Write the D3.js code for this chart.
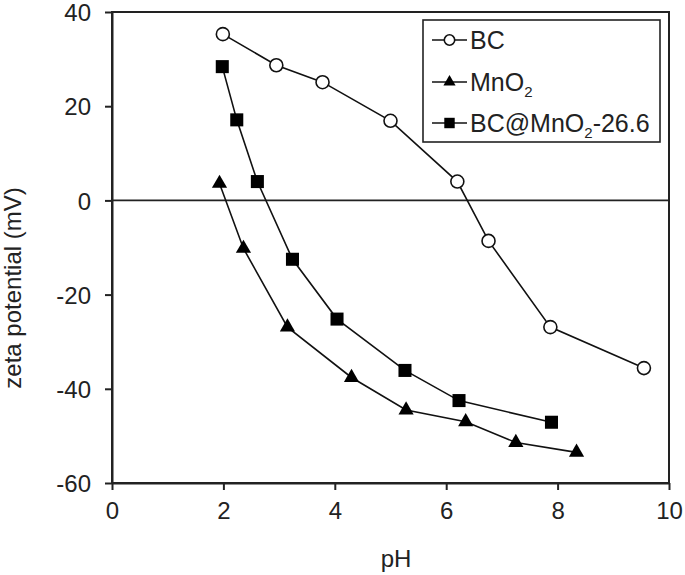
<!DOCTYPE html>
<html>
<head>
<meta charset="utf-8">
<script src="https://cdn.jsdelivr.net/npm/d3@7"></script>
<style>
  body { margin: 0; background: #fff; }
  svg { display: block; font-family: "Liberation Sans", Arial, sans-serif; }
</style>
</head>
<body>
<div id="chart"></div>
<script>
// pH values and zeta potentials (mV)
const bcPH = [1.99, 2.95, 3.78, 5.0, 6.2, 6.76, 7.87, 9.55];
const bcZeta = [35.3, 28.7, 25.1, 16.9, 4.0, -8.6, -26.9, -35.6];

const mnPH = [1.93, 2.36, 3.15, 4.30, 5.28, 6.35, 7.25, 8.34];
const mnZeta = [3.6, -10.2, -26.9, -37.6, -44.5, -47.0, -51.4, -53.5];

const compPH = [1.98, 2.24, 2.61, 3.24, 4.04, 5.26, 6.23, 7.89];
const compZeta = [28.4, 17.1, 4.0, -12.5, -25.2, -36.1, -42.5, -47.1];

const xTicks = [0, 2, 4, 6, 8, 10];
const yTicks = [-60, -40, -20, 0, 20, 40];

const series = [
  {name: "BC", sym: "circle", x: bcPH, y: bcZeta},
  {name: "MnO2", sym: "triangle", x: mnPH, y: mnZeta},
  {name: "BC@MnO2-26.6", sym: "square", x: compPH, y: compZeta}
];

const width = 685, height = 575;
const m = {left: 112, right: 669, top: 12, bottom: 483};

const x = d3.scaleLinear().domain([0, 10]).range([m.left, m.right]);
const y = d3.scaleLinear().domain([-60, 40]).range([m.bottom, m.top]);

const svg = d3.select("#chart").append("svg")
    .attr("width", width)
    .attr("height", height);

// frame
svg.append("rect")
    .attr("x", m.left).attr("y", m.top)
    .attr("width", m.right - m.left).attr("height", m.bottom - m.top)
    .attr("fill", "none").attr("stroke", "#222").attr("stroke-width", 2);

// zero line
svg.append("line")
    .attr("x1", m.left).attr("x2", m.right)
    .attr("y1", y(0)).attr("y2", y(0))
    .attr("stroke", "#222").attr("stroke-width", 1.6);

// plain hyphen for negatives, like the original
const fmt = d => String(d);

const xAxis = svg.append("g")
    .attr("transform", `translate(0,${m.bottom})`)
    .call(d3.axisBottom(x).tickValues(xTicks).tickFormat(fmt).tickSize(7).tickPadding(12).tickSizeOuter(0));
const yAxis = svg.append("g")
    .attr("transform", `translate(${m.left},0)`)
    .call(d3.axisLeft(y).tickValues(yTicks).tickFormat(fmt).tickSize(7).tickPadding(14).tickSizeOuter(0));

[xAxis, yAxis].forEach(g => {
  g.select(".domain").attr("stroke", "#222").attr("stroke-width", 2);
  g.selectAll(".tick line").attr("stroke", "#222").attr("stroke-width", 2);
  g.selectAll(".tick text")
      .attr("fill", "#222")
      .style("font-size", "24px")
      .style("font-family", '"Liberation Sans", Arial, sans-serif');
});
yAxis.selectAll(".tick text").attr("dy", "0.36em");

svg.append("text")
    .attr("x", 396).attr("y", 567)
    .attr("text-anchor", "middle")
    .attr("fill", "#222")
    .style("font-size", "24px")
    .text("pH");

svg.append("text")
    .attr("transform", "translate(21,288) rotate(-90)")
    .attr("text-anchor", "middle")
    .attr("fill", "#222")
    .style("font-size", "24px")
    .text("zeta potential (mV)");

const line = d3.line().x(d => x(d[0])).y(d => y(d[1]));

function drawMarker(g, sym, cx, cy, scale) {
  if (sym === "circle") {
    g.append("circle").attr("cx", cx).attr("cy", cy).attr("r", 6.5 * scale)
        .attr("fill", "#fff").attr("stroke", "#111").attr("stroke-width", 1.6);
  } else {
    const type = sym === "square" ? d3.symbolSquare : d3.symbolTriangle;
    const size = sym === "square" ? 170 : 100;
    g.append("path")
        .attr("transform", `translate(${cx},${cy})`)
        .attr("d", d3.symbol(type, size * scale * scale)())
        .attr("fill", "#000");
  }
}

series.forEach(s => {
  const pts = s.x.map((v, i) => [v, s.y[i]]);
  svg.append("path")
      .attr("d", line(pts))
      .attr("fill", "none")
      .attr("stroke", "#111")
      .attr("stroke-width", 1.6);
  const g = svg.append("g");
  pts.forEach(p => drawMarker(g, s.sym, x(p[0]), y(p[1]), 1));
});

// legend
const leg = svg.append("g");
leg.append("rect")
    .attr("x", 423).attr("y", 20)
    .attr("width", 237).attr("height", 122)
    .attr("fill", "#fff").attr("stroke", "#222").attr("stroke-width", 1.6);

const rowY = [40, 82, 123];
series.forEach((s, i) => {
  const ly = rowY[i];
  leg.append("line")
      .attr("x1", 432).attr("x2", 467)
      .attr("y1", ly).attr("y2", ly)
      .attr("stroke", "#111").attr("stroke-width", 1.6);
  drawMarker(leg, s.sym, 449.5, ly, 0.8);
  const t = leg.append("text")
      .attr("x", 470).attr("y", ly + 9)
      .attr("fill", "#222")
      .style("font-size", "25px");
  const parts = s.name.match(/^(.*MnO)2(.*)$/);
  if (parts) {
    t.append("tspan").text(parts[1]);
    t.append("tspan").attr("dy", 6).style("font-size", "15px").text("2");
    if (parts[2]) t.append("tspan").attr("dy", -6).text(parts[2]);
  } else {
    t.text(s.name);
  }
});
</script>
</body>
</html>
